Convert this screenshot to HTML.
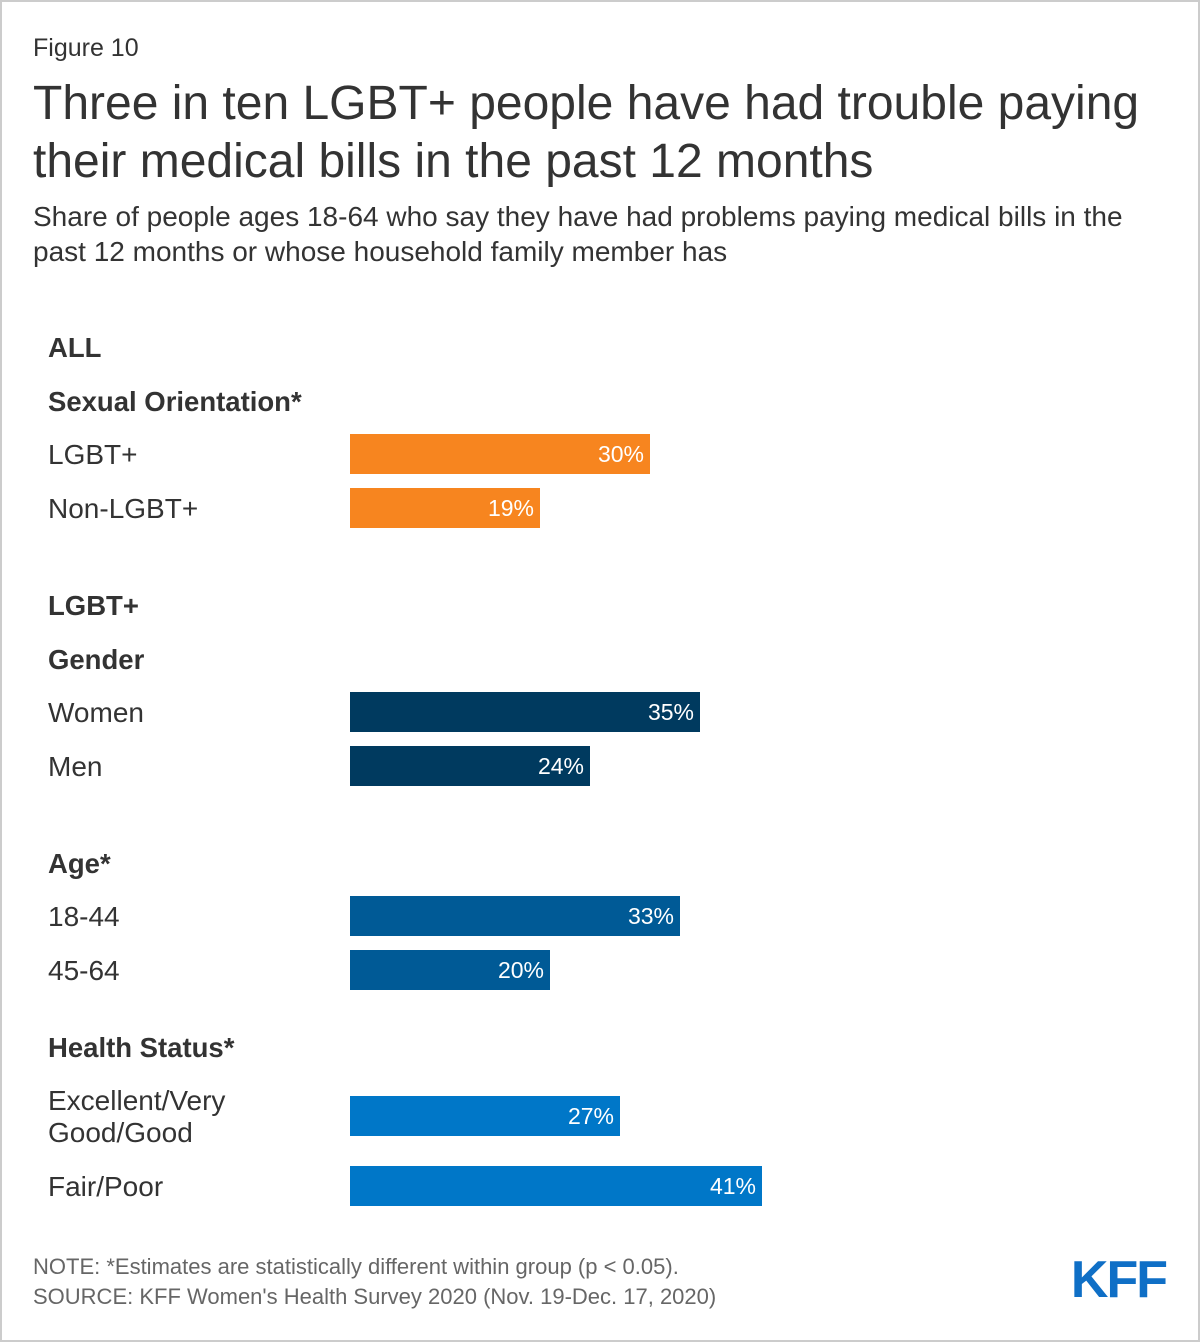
<!DOCTYPE html>
<html><head><meta charset="utf-8"><style>
body{margin:0;background:#fff;}
svg{display:block;font-family:"Liberation Sans",Arial,sans-serif;}
</style></head><body>
<svg width="1200" height="1342" viewBox="0 0 1200 1342">
<rect x="1" y="1" width="1198" height="1340" fill="#fff" stroke="#cccccc" stroke-width="2"/>
<text x="33" y="56" font-size="25" fill="#333">Figure 10</text>
<text x="33" y="119" font-size="48" fill="#333">Three in ten LGBT+ people have had trouble paying</text>
<text x="33" y="177" font-size="48" fill="#333">their medical bills in the past 12 months</text>
<text x="33" y="226" font-size="28" fill="#333">Share of people ages 18-64 who say they have had problems paying medical bills in the</text>
<text x="33" y="261" font-size="28" fill="#333">past 12 months or whose household family member has</text>
<g id="headers"></g>
<g id="bars"></g>
<text x="33" y="1274" font-size="22" fill="#666">NOTE: *Estimates are statistically different within group (p &lt; 0.05).</text>
<text x="33" y="1304" font-size="22" fill="#666">SOURCE: KFF Women's Health Survey 2020 (Nov. 19-Dec. 17, 2020)</text>
<text x="1166" y="1297" font-size="52" font-weight="bold" fill="#0f6fc6" text-anchor="end" letter-spacing="-2">KFF</text>
</svg>
<script>
const categories=["LGBT+","Non-LGBT+","Women","Men","18-44","45-64","Excellent/Very|Good/Good","Fair/Poor"];
const values=[30,19,35,24,33,20,27,41.2];
const valueLabels=["30%","19%","35%","24%","33%","20%","27%","41%"];
const barColors=["#f7851f","#f7851f","#003a5f","#003a5f","#005a96","#005a96","#0077c8","#0077c8"];
const rowCenters=[454,508,712,766,916,970,1116,1186];
const headers=["ALL","Sexual Orientation*","LGBT+","Gender","Age*","Health Status*"];
const headerCenters=[347,401,605,659,863,1047];
const NS="http://www.w3.org/2000/svg";
const x0=350,pxPerPct=10,barH=40;
function xs(v){return x0+v*pxPerPct;}
const hg=document.getElementById('headers');
headers.forEach((h,i)=>{
 const t=document.createElementNS(NS,'text');
 t.setAttribute('x',48);t.setAttribute('y',headerCenters[i]+10);
 t.setAttribute('font-size','27.5');t.setAttribute('font-weight','bold');t.setAttribute('fill','#333');
 t.textContent=h;
 
 
 hg.appendChild(t);
});
const bg=document.getElementById('bars');
categories.forEach((c,i)=>{
 const cy=rowCenters[i];
 const lines=c.split('|');
 lines.forEach((ln,j)=>{
  const t=document.createElementNS(NS,'text');
  t.setAttribute('x',48);
  t.setAttribute('y',cy+10+(j-(lines.length-1)/2)*32);
  t.setAttribute('font-size','28');t.setAttribute('fill','#333');
  t.textContent=ln;
  
  
  bg.appendChild(t);
 });
 const r=document.createElementNS(NS,'rect');
 r.setAttribute('x',x0);r.setAttribute('y',cy-barH/2);
 r.setAttribute('width',xs(values[i])-x0);r.setAttribute('height',barH);
 r.setAttribute('fill',barColors[i]);
 
 
 bg.appendChild(r);
 const v=document.createElementNS(NS,'text');
 v.setAttribute('x',xs(values[i])-6);v.setAttribute('y',cy+8);
 v.setAttribute('font-size','23');v.setAttribute('fill','#fff');v.setAttribute('text-anchor','end');
 v.textContent=valueLabels[i];
 
 
 bg.appendChild(v);
});
</script>
</body></html>
